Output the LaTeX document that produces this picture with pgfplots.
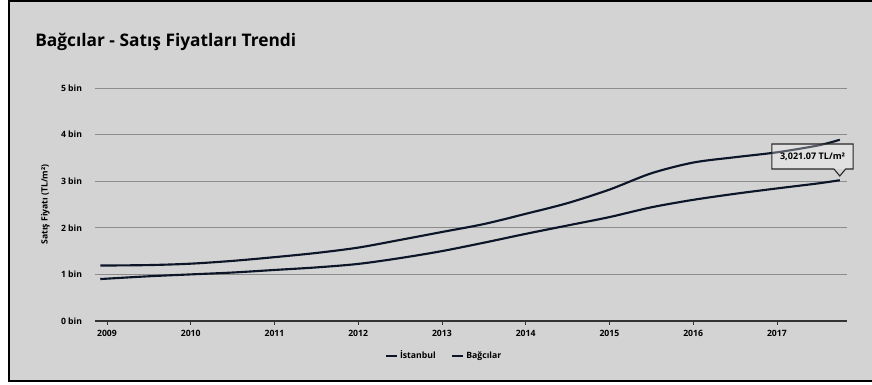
\documentclass[border=0pt]{standalone}
\usepackage{pgfplots}
\pgfplotsset{compat=1.18}
\usepackage{fontspec}
\setmainfont{Open Sans}
\definecolor{bgc}{HTML}{D3D3D3}
\definecolor{linec}{HTML}{0C1628}
\definecolor{gridc}{HTML}{8C8C8C}
\pgfplotstableread{
x y
2008.92 1190
2009.5 1200
2010 1230
2010.5 1290
2011 1370
2011.5 1460
2012 1575
2012.5 1740
2013 1910
2013.5 2080
2014 2300
2014.5 2530
2015 2820
2015.5 3170
2016 3400
2016.5 3515
2017 3620
2017.5 3770
2017.75 3890
}\istanbul
\pgfplotstableread{
x y
2008.92 900
2009.5 960
2010 1000
2010.5 1040
2011 1095
2011.5 1150
2012 1225
2012.5 1350
2013 1500
2013.5 1680
2014 1870
2014.5 2050
2015 2230
2015.5 2440
2016 2600
2016.5 2730
2017 2845
2017.5 2955
2017.75 3021.07
}\bagcilar
\begin{document}
\begin{tikzpicture}
\begin{scope}[x=0.75pt,y=0.75pt]
\useasboundingbox (0,0) rectangle (872,385);
\fill[white] (0,0) rectangle (872,385);
\fill[bgc] (8,3) rectangle (872,384);
\draw[black,line width=1.5pt] (872,384) -- (8.5,384) -- (8.5,3.5) -- (872,3.5);
\node[anchor=base west,inner sep=0pt,font=\bfseries\fontsize{13}{15}\selectfont] at (35,338) {Bağcılar - Satış Fiyatları Trendi};
\end{scope}
\begin{axis}[
  at={(71.25pt,48pt)}, anchor=south west,
  scale only axis, width=564pt, height=174.75pt,
  xmin=2008.857, xmax=2017.836,
  ymin=0, ymax=5000,
  axis x line*=bottom, axis y line*=left,
  x axis line style={draw=black!80, line width=1pt, -},
  y axis line style={draw=none},
  xtick={2009,...,2017},
  xticklabels={2009,2010,2011,2012,2013,2014,2015,2016,2017},
  ytick={0,1000,2000,3000,4000,5000},
  yticklabels={0 bin,1 bin,2 bin,3 bin,4 bin,5 bin},
  ymajorgrids, grid style={draw=gridc, line width=0.6pt},
  xtick align=outside, major tick length=3pt,
  xtick style={draw=black!80, line width=0.6pt},
  ytick style={draw=none},
  tick label style={font=\bfseries\fontsize{6.5}{7}\selectfont},
  xticklabel style={inner sep=0pt, yshift=-4pt},
  yticklabel style={inner sep=0pt, xshift=-9.5pt},
  /pgf/number format/assume math mode=true,
  scaled y ticks=false,
  ylabel={Satış Fiyatı (TL/m²)},
  ylabel style={font=\bfseries\fontsize{6.5}{7}\selectfont, at={(axis description cs:-0.066,0.5)}, anchor=center},
  legend style={at={(0.465,-0.15)}, anchor=center, draw=none, fill=none,
    legend columns=2, font=\bfseries\fontsize{6.5}{7}\selectfont,
    /tikz/every even column/.append style={column sep=10pt}},
  legend image code/.code={\draw[#1, line width=1pt] (0pt,0pt) -- (8pt,0pt);},
  clip=false,
]
\addplot[linec, line width=1.6pt, smooth, tension=0.5] table[x=x,y=y] {\istanbul};
\addlegendentry{İstanbul}
\addplot[linec, line width=1.6pt, smooth, tension=0.5] table[x=x,y=y] {\bagcilar};
\addlegendentry{Bağcılar}
\fill[white, opacity=0.3] (axis cs:2016.94,3262) rectangle (axis cs:2017.91,3798);
\draw[black!85, line width=0.8pt] (axis cs:2016.94,3262) -- (axis cs:2017.68,3262) -- (axis cs:2017.75,3112) -- (axis cs:2017.82,3262) -- (axis cs:2017.91,3262) -- (axis cs:2017.91,3798) -- (axis cs:2016.94,3798) -- cycle;
\node[font=\bfseries\fontsize{6.8}{7}\selectfont, inner sep=0pt] at (axis cs:2017.425,3530) {3,021.07 TL/m²};
\end{axis}
\end{tikzpicture}
\end{document}
